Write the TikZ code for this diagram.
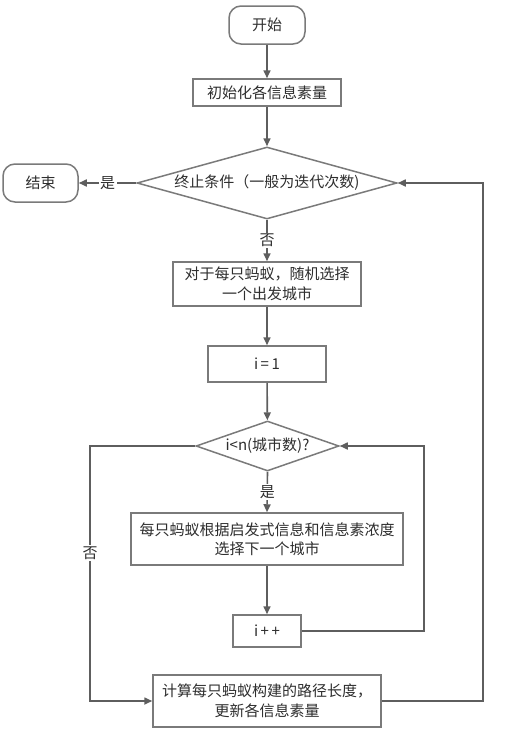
\documentclass[tikz,border=0pt]{standalone}
\usepackage{fontspec}
\setmainfont{Noto Sans CJK SC}
\usetikzlibrary{shapes.geometric,arrows.meta}
\definecolor{ln}{HTML}{5E5E5E}
\definecolor{bd}{HTML}{7A7A7A}
\definecolor{tx}{HTML}{2E2E2E}
\begin{document}
\begin{tikzpicture}[x=1pt,y=-1pt,
  txt/.style={text=tx, font=\fontsize{15}{19.5}\selectfont},
  box/.style={draw=bd, line width=1.5pt, fill=white, txt, align=center, inner sep=0pt},
  term/.style={box, rounded corners=12pt},
  dec/.style={diamond, draw=bd, line width=1.5pt, fill=white, inner sep=0pt},
  arr/.style={draw=ln, line width=1.6pt, -{Triangle[width=7pt,length=8pt]}},
  lab/.style={txt, fill=white, inner sep=1.5pt}]
\useasboundingbox (0,0) rectangle (510,731);
\node[term, minimum width=76pt, minimum height=38pt] (start) at (267,25) {开始};
\node[box, minimum width=148pt, minimum height=27pt] (init) at (267,92.5) {初始化各信息素量};
\node[dec, minimum width=260pt, minimum height=72pt] (cond) at (267,183) {};
\node[txt] at (cond.center) {终止条件（一般为迭代次数)};
\node[term, minimum width=75pt, minimum height=38pt] (fin) at (40.5,183) {结束};
\node[box, minimum width=188pt, minimum height=44pt] (ant) at (267,284) {对于每只蚂蚁，随机选择\\一个出发城市};
\node[box, minimum width=118pt, minimum height=36pt] (ione) at (267,364) {i\,=\,1};
\node[dec, minimum width=143pt, minimum height=50pt] (cond2) at (267.5,446) {};
\node[txt] at (cond2.center) {i<n(城市数)?};
\node[box, minimum width=272pt, minimum height=52pt] (choose) at (267,539) {每只蚂蚁根据启发式信息和信息素浓度\\选择下一个城市};
\node[box, minimum width=68pt, minimum height=32pt] (inc) at (267,631) {i\,+\,+};
\node[box, minimum width=228pt, minimum height=52pt] (upd) at (267,701) {计算每只蚂蚁构建的路径长度，\\更新各信息素量};
\coordinate (rone) at (424,0);
\coordinate (rtwo) at (483,0);
\coordinate (lone) at (90,0);
\draw[arr] (start) -- (init);
\draw[arr] (init) -- (cond);
\draw[arr] (cond.west) -- node[lab] {是} (fin.east);
\draw[arr] (cond.south) -- node[lab] {否} (ant.north);
\draw[arr] (ant) -- (ione);
\draw[arr] (ione) -- (cond2);
\draw[arr] (cond2.south) -- node[lab] {是} (choose.north);
\draw[arr] (choose) -- (inc);
\draw[arr] (inc.east) -- (inc.east -| rone) -- (cond2.east -| rone) -- (cond2.east);
\draw[arr] (cond2.west) -- (cond2.west -| lone) -- node[lab, pos=0.42] {否} (upd.west -| lone) -- (upd.west);
\draw[arr] (upd.east) -- (upd.east -| rtwo) -- (cond.east -| rtwo) -- (cond.east);
\end{tikzpicture}
\end{document}
